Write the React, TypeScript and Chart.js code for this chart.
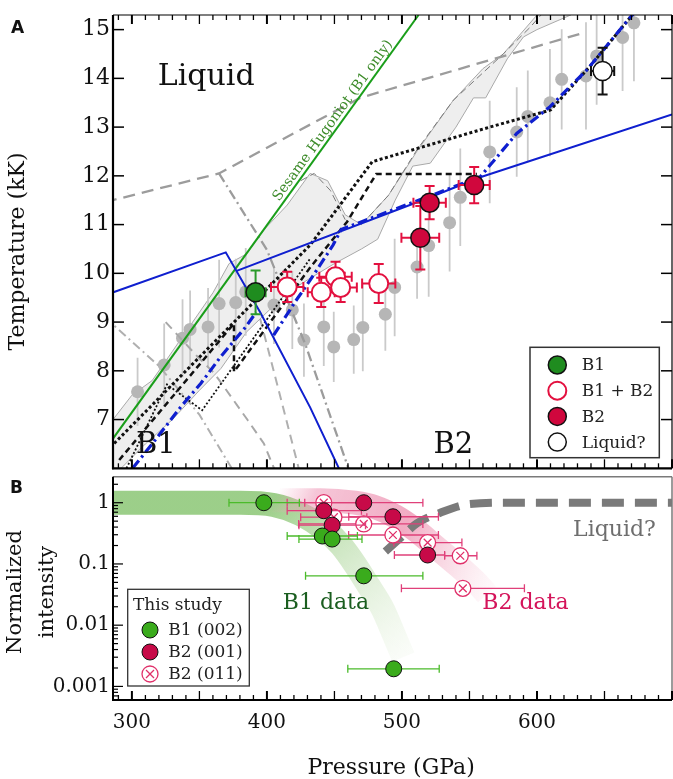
import React, { useEffect, useRef } from "react";
import { Chart, registerables } from "chart.js";
Chart.register(...registerables);

const SERIF = "'DejaVu Serif', 'Liberation Serif', serif";
const SANS = "'DejaVu Sans', 'Liberation Sans', sans-serif";

// ---------------- axis ranges & tick labels ----------------
const P_MIN = 286;
const P_MAX = 700;
const T_MIN = 6.0;
const T_MAX = 15.3;
const I_MIN = 0.000607;
const I_MAX = 2.66;
const tTickLabels = [7, 8, 9, 10, 11, 12, 13, 14, 15];
const pTickLabels = [300, 400, 500, 600];
const iTickLabels = [0.001, 0.01, 0.1, 1];

// ---------------- Panel A data ----------------
const grayP = [304.2, 323.9, 337.5, 343.1, 356.4, 364.6, 376.9, 384.3, 405.2, 418.8, 427.4, 442.1, 449.5, 464.3, 471.0, 487.7, 494.6, 511.2, 519.8, 535.3, 543.2, 565.0, 585.0, 593.2, 609.6, 618.3, 636.3, 644.2, 663.4, 671.8];
const grayT = [7.57, 8.12, 8.67, 8.85, 8.9, 9.38, 9.4, 9.62, 9.35, 9.25, 8.63, 8.9, 8.49, 8.64, 8.89, 9.16, 9.71, 10.13, 10.57, 11.04, 11.56, 12.49, 12.9, 13.22, 13.5, 13.98, 14.05, 14.46, 14.84, 15.14];
const grayErrT = [0.7, 0.85, 0.8, 0.8, 0.8, 0.9, 0.9, 0.9, 0.8, 0.8, 0.75, 0.8, 0.72, 0.7, 0.9, 0.75, 1.0, 0.65, 1.05, 1.0, 1.0, 1.05, 0.92, 0.94, 1.1, 1.03, 1.1, 1.0, 1.1, 1.2];

const b1P = [391.6];
const b1T = [9.61];
const b1ErrP = [7.4];
const b1ErrT = [0.45];

const mixP = [415.0, 440.2, 450.8, 454.6, 482.8];
const mixT = [9.72, 9.61, 9.93, 9.71, 9.79];
const mixErrP = [12, 10, 12, 12, 12.3];
const mixErrT = [0.31, 0.3, 0.31, 0.3, 0.4];

const b2P = [513.6, 520.5, 553.5];
const b2T = [10.73, 11.45, 11.81];
const b2ErrP = [14, 12, 11.5];
const b2ErrT = [0.65, 0.34, 0.37];

const liqP = [648.6];
const liqT = [14.15];
const liqErrP = [8.6];
const liqErrT = [0.48];

const hugP = [286, 512.3];
const hugT = [6.61, 15.3];

const blue1P = [280, 369.5, 395, 432, 455];
const blue1T = [9.55, 10.43, 9.2, 7.25, 5.9];
const blue2P = [377.6, 520, 558, 700];
const blue2T = [10.05, 11.55, 11.97, 13.26];

const blueDashAP = [300.5, 315.3, 336.2, 351, 365.8, 384.3, 392];
const blueDashAT = [6.0, 6.51, 7.26, 7.74, 8.29, 8.9, 9.2];
const blueDashBP = [405, 421, 432, 449, 455, 520, 558, 585, 609.7, 636.8, 672];
const blueDashBT = [8.73, 9.42, 9.86, 10.58, 10.9, 11.58, 11.98, 12.87, 13.42, 14.17, 15.35];

const dot1P = [286.9, 432, 478, 565, 610, 640, 672];
const dot1T = [6.51, 10.58, 12.29, 13.0, 13.35, 14.27, 15.35];
const dash1P = [290.6, 375.6, 375.6, 432.3, 459.4, 481, 555.5];
const dash1T = [6.17, 8.97, 7.98, 10.13, 11.06, 12.04, 12.04];
const dot2P = [296, 326, 352, 432];
const dot2T = [6.0, 7.72, 7.19, 10.3];

const gDash1P = [280, 364.5, 469, 634];
const gDash1T = [11.46, 12.05, 13.6, 14.93];
const gDashDot1P = [364.5, 400, 428.6, 461];
const gDashDot1T = [12.05, 10.48, 8.53, 5.95];
const gDashDot2P = [280, 320, 350, 375];
const gDashDot2T = [9.1, 8.1, 7.1, 5.95];
const gDash2P = [325, 348.6, 361, 373.4, 385.7, 397.7, 406];
const gDash2T = [9.0, 8.29, 7.95, 7.47, 6.99, 6.51, 5.95];
const gDash3P = [395, 407.7, 424];
const gDash3T = [9.07, 7.71, 5.95];

const bandP = [286, 300, 315, 330, 345, 360, 372, 385, 398, 415, 432, 445, 458, 470, 490, 511, 538, 560, 575, 600, 625, 600, 590, 578, 562, 553, 540, 521, 508, 495, 482, 470, 450, 432, 415, 400, 385, 366, 350, 330, 310, 292, 286];
const bandT = [7.0, 7.5, 7.8, 8.4, 9.0, 9.6, 10.2, 10.4, 10.9, 11.4, 12.05, 11.9, 11.2, 11.0, 11.6, 12.5, 13.55, 14.2, 14.5, 15.3, 15.3, 15.0, 14.85, 14.4, 13.6, 13.6, 13.0, 12.26, 12.2, 11.5, 10.7, 10.5, 10.2, 9.9, 9.6, 9.2, 8.8, 8.05, 7.6, 7.0, 6.5, 6.0, 6.0];
const arc1P = [425, 435, 447, 458];
const arc1T = [11.9, 12.05, 11.7, 11.1];
const arc2P = [470, 490, 511, 538, 575, 595, 603];
const arc2T = [11.0, 11.6, 12.53, 13.55, 14.5, 15.05, 15.3];

// ---------------- Panel B data ----------------
const gBandP = [270, 380, 405, 425, 443, 455, 465, 475, 486, 494, 501];
const gBandI = [1.0, 1.0, 0.92, 0.65, 0.36, 0.2, 0.1, 0.045, 0.018, 0.007, 0.003];
const rBandP = [400, 440, 465, 480, 495, 510, 525, 540, 555, 563];
const rBandI = [1.1, 1.1, 1.0, 0.85, 0.6, 0.36, 0.19, 0.1, 0.05, 0.032];
const liqCurveP = [487.7, 500, 511, 528, 550, 580, 700];
const liqCurveI = [0.16, 0.28, 0.46, 0.68, 0.95, 1.0, 1.0];

const gP = [397.7, 441.0, 448.3, 471.7, 493.9];
const gI = [1.0, 0.286, 0.255, 0.064, 0.00194];
const gLo = [25.8, 26, 24.6, 43.1, 34];
const gHi = [26.3, 26, 22.1, 43.8, 33.7];

const rP = [471.7, 442.1, 448.3, 493.3, 519.0];
const rI = [1.0, 0.74, 0.43, 0.59, 0.14];
const rLo = [43.7, 27.1, 24.6, 32.7, 24.6];
const rHi = [43.8, 27.9, 24.7, 33.7, 12.6];

const xP = [442.1, 449.6, 471.7, 493.3, 519.0, 543.2, 545.1];
const xI = [1.0, 0.58, 0.45, 0.297, 0.223, 0.136, 0.04];
const xLo = [27.1, 24.6, 48.2, 32.8, 25, 11.6, 45.5];
const xHi = [27.9, 24.4, 43.8, 33.7, 25.4, 12.3, 45.6];

// ---------------- helpers ----------------
const pts = (xs: number[], ys: number[]) => xs.map((x, i) => ({ x, y: ys[i] }));
const sym = (a: number[]) => a.slice();

function lineDs(xs: number[], ys: number[], color: any, width: number, dash: number[] = [], extra: any = {}) {
  return {
    data: pts(xs, ys),
    showLine: true,
    borderColor: color,
    borderWidth: width,
    borderDash: dash,
    pointRadius: 0,
    pointHoverRadius: 0,
    fill: false,
    tension: 0,
    clip: 0,
    ...extra,
  };
}

function pointDs(xs: number[], ys: number[], r: number, fill: string, border: string, bw: number, err: any = null, extra: any = {}) {
  return {
    data: pts(xs, ys),
    showLine: false,
    pointRadius: r,
    pointHoverRadius: r,
    pointBackgroundColor: fill,
    pointBorderColor: border,
    pointBorderWidth: bw,
    clip: 0,
    err,
    ...extra,
  };
}

function withOrder(list: any[]) {
  const n = list.length;
  return list.map((d, i) => ({ ...d, order: n - i }));
}

const errorBarPlugin = {
  id: "errbars",
  beforeDatasetDraw(chart: any, args: any) {
    const ds: any = chart.data.datasets[args.index];
    const e = ds && ds.err;
    if (!e) return;
    const { ctx, chartArea: a } = chart;
    const xs = chart.scales.x;
    const ys = chart.scales.y;
    ctx.save();
    ctx.beginPath();
    ctx.rect(a.left, a.top, a.right - a.left, a.bottom - a.top);
    ctx.clip();
    ctx.strokeStyle = e.color;
    ctx.lineWidth = e.width;
    ctx.setLineDash([]);
    ds.data.forEach((d: any, i: number) => {
      const px = xs.getPixelForValue(d.x);
      const py = ys.getPixelForValue(d.y);
      ctx.beginPath();
      if (e.xlo) {
        const x1 = xs.getPixelForValue(d.x - e.xlo[i]);
        const x2 = xs.getPixelForValue(d.x + e.xhi[i]);
        ctx.moveTo(x1, py);
        ctx.lineTo(x2, py);
        if (e.cap) {
          ctx.moveTo(x1, py - e.cap);
          ctx.lineTo(x1, py + e.cap);
          ctx.moveTo(x2, py - e.cap);
          ctx.lineTo(x2, py + e.cap);
        }
      }
      if (e.ylo) {
        const y1 = ys.getPixelForValue(d.y - e.ylo[i]);
        const y2 = ys.getPixelForValue(d.y + e.yhi[i]);
        ctx.moveTo(px, y1);
        ctx.lineTo(px, y2);
        if (e.cap) {
          ctx.moveTo(px - e.cap, y1);
          ctx.lineTo(px + e.cap, y1);
          ctx.moveTo(px - e.cap, y2);
          ctx.lineTo(px + e.cap, y2);
        }
      }
      ctx.stroke();
    });
    ctx.restore();
  },
};

function seg(ctx: any, x1: number, y1: number, x2: number, y2: number) {
  ctx.beginPath();
  ctx.moveTo(x1, y1);
  ctx.lineTo(x2, y2);
  ctx.stroke();
}

function legendCircle(ctx: any, x: number, y: number, r: number, fill: string, stroke: string, lw: number) {
  ctx.beginPath();
  ctx.arc(x, y, r, 0, Math.PI * 2);
  ctx.fillStyle = fill;
  ctx.fill();
  ctx.lineWidth = lw;
  ctx.strokeStyle = stroke;
  ctx.stroke();
}

// ---------------- colours ----------------
const C_GREEN_A = "#1f8c1f";
const C_RED_A = "#d0073d";
const C_RED_LINE = "#e3103f";
const C_BLUE = "#0f1fcf";
const C_GREEN_B = "#3aab1c";
const C_RED_B = "#c70a48";
const C_PINK = "#e0306a";

// ---------------- Panel A ----------------
const decorA = {
  id: "decorA",
  afterDatasetsDraw(chart: any) {
    const { ctx } = chart;
    const xs = chart.scales.x;
    const ys = chart.scales.y;
    // Hugoniot label
    const x1 = xs.getPixelForValue(hugP[0]);
    const y1 = ys.getPixelForValue(hugT[0]);
    const x2 = xs.getPixelForValue(hugP[1]);
    const y2 = ys.getPixelForValue(hugT[1]);
    const ang = Math.atan2(y2 - y1, x2 - x1);
    const f = 0.74;
    ctx.save();
    ctx.translate(x1 + f * (x2 - x1), y1 + f * (y2 - y1));
    ctx.rotate(ang);
    ctx.font = `14px ${SERIF}`;
    ctx.fillStyle = "#3d8b2a";
    ctx.textAlign = "center";
    ctx.textBaseline = "alphabetic";
    ctx.fillText("Sesame Hugoniot (B1 only)", 0, -4);
    ctx.restore();

    // region labels
    ctx.save();
    ctx.fillStyle = "#111";
    ctx.textAlign = "left";
    ctx.textBaseline = "alphabetic";
    ctx.font = `30px ${SERIF}`;
    ctx.fillText("Liquid", xs.getPixelForValue(319.2), ys.getPixelForValue(13.86));
    ctx.font = `29px ${SERIF}`;
    ctx.fillText("B1", xs.getPixelForValue(303), ys.getPixelForValue(6.31));
    ctx.fillText("B2", xs.getPixelForValue(523.4), ys.getPixelForValue(6.31));
    ctx.restore();

    // legend
    ctx.save();
    const a = chart.chartArea;
    const bx = a.right - 142;
    const by = a.bottom - 121;
    const bw = 129.3;
    const bh = 110.4;
    ctx.fillStyle = "#fff";
    ctx.fillRect(bx, by, bw, bh);
    ctx.strokeStyle = "#333";
    ctx.lineWidth = 1.5;
    ctx.strokeRect(bx, by, bw, bh);
    const rows = [
      { t: "B1", f: C_GREEN_A, s: "#111", w: 1.5 },
      { t: "B1 + B2", f: "#fff", s: C_RED_LINE, w: 2 },
      { t: "B2", f: C_RED_A, s: "#111", w: 1.5 },
      { t: "Liquid?", f: "#fff", s: "#111", w: 1.5 },
    ];
    ctx.font = `17px ${SERIF}`;
    ctx.textBaseline = "middle";
    ctx.textAlign = "left";
    rows.forEach((r, i) => {
      const cy = by + 17.7 + i * 25.7;
      legendCircle(ctx, bx + 27.3, cy, 9, r.f, r.s, r.w);
      ctx.fillStyle = "#222";
      ctx.fillText(r.t, bx + 51.7, cy + 1);
    });
    ctx.restore();
  },
  afterDraw(chart: any) {
    const { ctx, chartArea: a } = chart;
    const xs = chart.scales.x;
    const ys = chart.scales.y;
    ctx.save();
    ctx.strokeStyle = "#000";
    ctx.setLineDash([]);
    ctx.lineWidth = 1.2;
    seg(ctx, a.left, a.top, a.right, a.top);
    seg(ctx, a.right, a.top, a.right, a.bottom);
    ctx.lineWidth = 2.2;
    seg(ctx, a.left, a.top, a.left, a.bottom + 1);
    seg(ctx, a.left - 1, a.bottom, a.right, a.bottom);
    // x ticks (inward, top and bottom)
    for (let p = 290; p <= 700; p += 10) {
      const px = xs.getPixelForValue(p);
      const major = p % 50 === 0;
      const len = major ? 9 : 5;
      ctx.lineWidth = p % 100 === 0 ? 2 : 1.3;
      seg(ctx, px, a.bottom, px, a.bottom - len);
      seg(ctx, px, a.top, px, a.top + len);
    }
    // y ticks (inward, left and right)
    ctx.lineWidth = 1.5;
    for (let t = 7; t <= 15; t++) {
      const py = ys.getPixelForValue(t);
      seg(ctx, a.left, py, a.left + 11, py);
      seg(ctx, a.right, py, a.right - 11, py);
    }
    ctx.restore();

    // panel letter and axis title
    ctx.save();
    ctx.fillStyle = "#111";
    ctx.font = `bold 17px ${SANS}`;
    ctx.textAlign = "left";
    ctx.textBaseline = "middle";
    ctx.fillText("A", 11, 29);
    ctx.translate(18, 251.5);
    ctx.rotate(-Math.PI / 2);
    ctx.font = `22px ${SERIF}`;
    ctx.textAlign = "center";
    ctx.textBaseline = "middle";
    ctx.fillText("Temperature (kK)", 0, 0);
    ctx.restore();
  },
};

function configA(): any {
  const datasets = withOrder([
    lineDs(bandP, bandT, "#a9a9a9", 1, [], { fill: "shape", backgroundColor: "rgba(232,232,232,0.75)" }),
    lineDs(arc1P, arc1T, "#7a7a7a", 1, [7, 4]),
    lineDs(arc2P, arc2T, "#7a7a7a", 1, [7, 4]),
    pointDs(grayP, grayT, 6.5, "#b6b6b6", "#b6b6b6", 0, {
      color: "#cacaca", width: 1.8, cap: 0, ylo: sym(grayErrT), yhi: sym(grayErrT),
    }),
    lineDs(gDashDot2P, gDashDot2T, "#b0b0b0", 2, [9, 4, 2, 4]),
    lineDs(gDash2P, gDash2T, "#a8a8a8", 2, [9, 6]),
    lineDs(gDash3P, gDash3T, "#b0b0b0", 2, [9, 6]),
    lineDs(gDash1P, gDash1T, "#9c9c9c", 2.3, [12, 7]),
    lineDs(gDashDot1P, gDashDot1T, "#9c9c9c", 2.3, [10, 4, 2, 4]),
    lineDs(hugP, hugT, "#1a9e1a", 2),
    lineDs(dash1P, dash1T, "#111", 2.5, [6, 4]),
    lineDs(dot2P, dot2T, "#111", 1.8, [2, 2]),
    lineDs(dot1P, dot1T, "#111", 3, [3, 2.5]),
    lineDs(blue1P, blue1T, C_BLUE, 2),
    lineDs(blue2P, blue2T, C_BLUE, 2),
    lineDs(blueDashAP, blueDashAT, C_BLUE, 3.2, [10, 4, 2.5, 4]),
    lineDs(blueDashBP, blueDashBT, C_BLUE, 3.2, [10, 4, 2.5, 4]),
    pointDs(b1P, b1T, 9.5, C_GREEN_A, "#111", 1.5, {
      color: "#2a9a2a", width: 2, cap: 5, xlo: b1ErrP, xhi: b1ErrP, ylo: b1ErrT, yhi: b1ErrT,
    }),
    pointDs(mixP, mixT, 9.5, "#fff", C_RED_LINE, 2, {
      color: C_RED_LINE, width: 2, cap: 5, xlo: mixErrP, xhi: mixErrP, ylo: mixErrT, yhi: mixErrT,
    }),
    pointDs(b2P, b2T, 9.5, C_RED_A, "#111", 1.5, {
      color: C_RED_LINE, width: 2, cap: 5, xlo: b2ErrP, xhi: b2ErrP, ylo: b2ErrT, yhi: b2ErrT,
    }),
    pointDs(liqP, liqT, 9.5, "#fff", "#111", 1.5, {
      color: "#111", width: 2, cap: 5, xlo: liqErrP, xhi: liqErrP, ylo: liqErrT, yhi: liqErrT,
    }),
  ]);
  return {
    type: "scatter",
    data: { datasets },
    options: {
      animation: false,
      responsive: false,
      maintainAspectRatio: false,
      devicePixelRatio: 1,
      events: [],
      layout: { autoPadding: false, padding: { left: 0, right: 1, top: 15, bottom: 3.7 } },
      plugins: { legend: { display: false }, tooltip: { enabled: false } },
      scales: {
        x: { type: "linear", min: P_MIN, max: P_MAX, display: false },
        y: {
          type: "linear",
          min: T_MIN,
          max: T_MAX,
          afterBuildTicks: (s: any) => {
            s.ticks = [T_MIN, ...tTickLabels, T_MAX].map((v) => ({ value: v }));
          },
          afterFit: (s: any) => {
            s.width = 113;
          },
          grid: { display: false, drawTicks: false },
          border: { display: false },
          ticks: {
            padding: 3,
            autoSkip: false,
            color: "#111",
            font: { family: SERIF, size: 22, lineHeight: 0.01 },
            callback: (v: number) => (tTickLabels.includes(v) ? String(v) : null),
          },
        },
      },
    },
    plugins: [errorBarPlugin, decorA],
  };
}

// ---------------- Panel B ----------------
const decorB = {
  id: "decorB",
  afterDatasetsDraw(chart: any) {
    const { ctx } = chart;
    const xs = chart.scales.x;
    const ys = chart.scales.y;
    ctx.save();
    ctx.textAlign = "left";
    ctx.textBaseline = "alphabetic";
    ctx.font = `22px ${SERIF}`;
    ctx.fillStyle = "#1b5e20";
    ctx.fillText("B1 data", xs.getPixelForValue(411.7), ys.getPixelForValue(0.0185));
    ctx.fillStyle = "#d4145a";
    ctx.fillText("B2 data", xs.getPixelForValue(559.5), ys.getPixelForValue(0.0185));
    ctx.fillStyle = "#6e6e6e";
    ctx.fillText("Liquid?", xs.getPixelForValue(626.7), ys.getPixelForValue(0.29));
    ctx.restore();

    // legend
    ctx.save();
    const a = chart.chartArea;
    const bx = a.left + 14.7;
    const by = a.top + 112.6;
    const bw = 121.6;
    const bh = 96.7;
    ctx.fillStyle = "#fff";
    ctx.fillRect(bx, by, bw, bh);
    ctx.strokeStyle = "#333";
    ctx.lineWidth = 1.3;
    ctx.strokeRect(bx, by, bw, bh);
    ctx.font = `17px ${SERIF}`;
    ctx.textAlign = "left";
    ctx.textBaseline = "middle";
    ctx.fillStyle = "#222";
    ctx.fillText("This study", bx + 5.3, by + 16.5);
    const rows = [
      { t: "B1 (002)", f: C_GREEN_B, s: "#111", cross: false },
      { t: "B2 (001)", f: C_RED_B, s: "#111", cross: false },
      { t: "B2 (011)", f: "#fff", s: C_PINK, cross: true },
    ];
    rows.forEach((r, i) => {
      const cy = by + 40.7 + i * 22;
      const cx = bx + 22.3;
      legendCircle(ctx, cx, cy, 8, r.f, r.s, r.cross ? 1.3 : 1);
      if (r.cross) {
        ctx.strokeStyle = C_PINK;
        ctx.lineWidth = 1.3;
        const d = 4;
        seg(ctx, cx - d, cy - d, cx + d, cy + d);
        seg(ctx, cx - d, cy + d, cx + d, cy - d);
      }
      ctx.fillStyle = "#222";
      ctx.fillText(r.t, bx + 40.6, cy + 1);
    });
    ctx.restore();
  },
  afterDraw(chart: any) {
    const { ctx, chartArea: a } = chart;
    const xs = chart.scales.x;
    const ys = chart.scales.y;
    ctx.save();
    ctx.setLineDash([]);
    ctx.strokeStyle = "#7a7a7a";
    ctx.lineWidth = 1.5;
    seg(ctx, a.left, a.top, a.right, a.top);
    seg(ctx, a.right, a.top, a.right, a.bottom);
    ctx.strokeStyle = "#000";
    ctx.lineWidth = 2;
    seg(ctx, a.left, a.top, a.left, a.bottom + 1);
    seg(ctx, a.left - 1, a.bottom, a.right, a.bottom);
    for (let p = 290; p <= 700; p += 10) {
      const px = xs.getPixelForValue(p);
      const major = p % 50 === 0;
      ctx.lineWidth = p % 100 === 0 ? 2 : 1.3;
      seg(ctx, px, a.bottom, px, a.bottom - (major ? 9 : 5));
    }
    ctx.lineWidth = 1.2;
    for (let d = -4; d <= 0; d++) {
      for (let m = 1; m <= 9; m++) {
        const v = m * Math.pow(10, d);
        if (v < I_MIN || v > I_MAX) continue;
        const py = ys.getPixelForValue(v);
        seg(ctx, a.left, py, a.left + (m === 1 ? 10 : 5), py);
      }
    }
    ctx.restore();

    ctx.save();
    ctx.fillStyle = "#111";
    // x tick labels placed through the x scale
    ctx.font = `20px ${SERIF}`;
    ctx.textAlign = "center";
    ctx.textBaseline = "middle";
    pTickLabels.forEach((v) => {
      ctx.fillText(String(v), xs.getPixelForValue(v), a.bottom + 23);
    });
    ctx.font = `bold 17px ${SANS}`;
    ctx.textAlign = "left";
    ctx.textBaseline = "middle";
    ctx.fillText("B", 10, 17);
    ctx.font = `22px ${SERIF}`;
    ctx.textAlign = "center";
    ctx.textBaseline = "alphabetic";
    ctx.fillText("Pressure (GPa)", xs.getPixelForValue(492), 302);
    ctx.save();
    ctx.translate(16, 120);
    ctx.rotate(-Math.PI / 2);
    ctx.font = `21px ${SERIF}`;
    ctx.textBaseline = "middle";
    ctx.fillText("Normalized", 0, 0);
    ctx.restore();
    ctx.save();
    ctx.translate(48, 120);
    ctx.rotate(-Math.PI / 2);
    ctx.font = `21px ${SERIF}`;
    ctx.textBaseline = "middle";
    ctx.fillText("intensity", 0, 0);
    ctx.restore();
    ctx.restore();
  },
};

function greenGrad(c: any) {
  const ch = c.chart;
  if (!ch.chartArea) return "rgba(120,190,95,0.7)";
  const xs = ch.scales.x;
  const ys = ch.scales.y;
  const g = ch.ctx.createLinearGradient(xs.getPixelForValue(405), ys.getPixelForValue(1.0), xs.getPixelForValue(500), ys.getPixelForValue(0.003));
  g.addColorStop(0, "rgba(118,188,92,0.72)");
  g.addColorStop(0.35, "rgba(140,198,115,0.45)");
  g.addColorStop(1, "rgba(190,220,170,0.08)");
  return g;
}

function pinkGrad(c: any) {
  const ch = c.chart;
  if (!ch.chartArea) return "rgba(230,120,160,0.5)";
  const xs = ch.scales.x;
  const ys = ch.scales.y;
  const g = ch.ctx.createLinearGradient(xs.getPixelForValue(405), ys.getPixelForValue(1.1), xs.getPixelForValue(566), ys.getPixelForValue(0.03));
  g.addColorStop(0, "rgba(240,160,190,0.0)");
  g.addColorStop(0.15, "rgba(238,150,182,0.55)");
  g.addColorStop(0.55, "rgba(232,115,155,0.6)");
  g.addColorStop(1, "rgba(245,185,205,0.08)");
  return g;
}

function configB(): any {
  const datasets = withOrder([
    lineDs(gBandP, gBandI, greenGrad, 24, [], { borderCapStyle: "butt", borderJoinStyle: "round", tension: 0.3, cubicInterpolationMode: "monotone" }),
    lineDs(rBandP, rBandI, pinkGrad, 24, [], { borderCapStyle: "butt", borderJoinStyle: "round", tension: 0.3, cubicInterpolationMode: "monotone" }),
    lineDs(liqCurveP, liqCurveI, "#7a7a7a", 8, [22, 11], { cubicInterpolationMode: "monotone", borderCapStyle: "butt" }),
    pointDs(xP, xI, 8, "#fff", C_PINK, 1.3, { color: "#e0407a", width: 1.3, cap: 4, xlo: xLo, xhi: xHi }),
    pointDs(xP, xI, 5.5, "rgba(0,0,0,0)", C_PINK, 1.3, null, { pointStyle: "crossRot" }),
    pointDs(rP, rI, 8, C_RED_B, "#111", 1, { color: "#e0407a", width: 1.3, cap: 4, xlo: rLo, xhi: rHi }),
    pointDs(gP, gI, 8, C_GREEN_B, "#111", 1, { color: "#4bbb2b", width: 1.3, cap: 4, xlo: gLo, xhi: gHi }),
  ]);
  return {
    type: "scatter",
    data: { datasets },
    options: {
      animation: false,
      responsive: false,
      maintainAspectRatio: false,
      devicePixelRatio: 1,
      events: [],
      layout: { autoPadding: false, padding: { left: 0, right: 1, top: 4.7, bottom: 0 } },
      plugins: { legend: { display: false }, tooltip: { enabled: false } },
      scales: {
        x: {
          type: "linear",
          min: P_MIN,
          max: P_MAX,
          afterBuildTicks: (s: any) => {
            s.ticks = pTickLabels.map((v) => ({ value: v }));
          },
          afterFit: (s: any) => {
            s.height = 79;
          },
          grid: { display: false, drawTicks: false },
          border: { display: false },
          ticks: { display: false },
        },
        y: {
          type: "logarithmic",
          min: I_MIN,
          max: I_MAX,
          afterBuildTicks: (s: any) => {
            s.ticks = [I_MIN, ...iTickLabels, I_MAX].map((v) => ({ value: v }));
          },
          afterFit: (s: any) => {
            s.width = 113;
          },
          grid: { display: false, drawTicks: false },
          border: { display: false },
          ticks: {
            padding: 3,
            color: "#111",
            autoSkip: false,
            font: { family: SERIF, size: 20, lineHeight: 0.01 },
            callback: (v: number) => (iTickLabels.includes(v) ? String(v) : null),
          },
        },
      },
    },
    plugins: [errorBarPlugin, decorB],
  };
}

export default function App() {
  const refA = useRef<HTMLCanvasElement>(null);
  const refB = useRef<HTMLCanvasElement>(null);
  useEffect(() => {
    document.body.style.margin = "0";
    const ca = new Chart(refA.current as HTMLCanvasElement, configA());
    const cb = new Chart(refB.current as HTMLCanvasElement, configB());
    return () => {
      ca.destroy();
      cb.destroy();
    };
  }, []);
  return (
    <div style={{ position: "relative", width: 673, height: 779, background: "#fff" }}>
      <canvas ref={refA} width={673} height={472} style={{ position: "absolute", left: 0, top: 0, width: 673, height: 472 }} />
      <canvas ref={refB} width={673} height={307} style={{ position: "absolute", left: 0, top: 472, width: 673, height: 307 }} />
    </div>
  );
}
